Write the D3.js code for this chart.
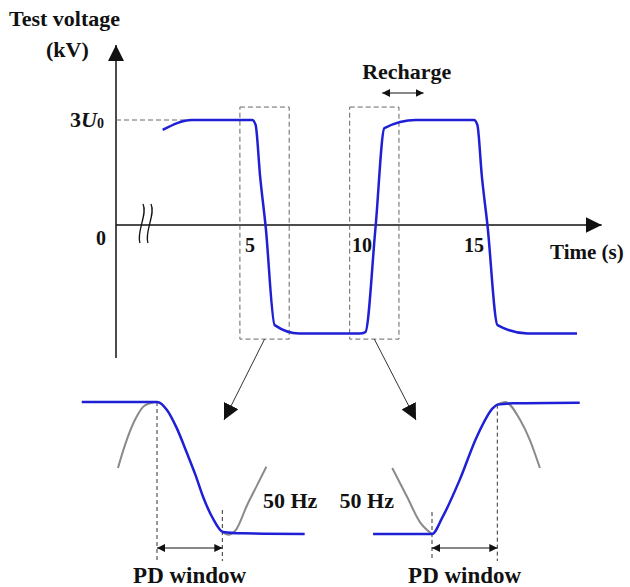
<!DOCTYPE html>
<html>
<head>
<meta charset="utf-8">
<script src="https://cdn.jsdelivr.net/npm/d3@7"></script>
<style>
  body { margin: 0; background: #fff; }
  text { font-family: "Liberation Serif", "Times New Roman", serif; font-weight: bold; fill: #111; }
</style>
</head>
<body>
<div id="chart"></div>
<script>
// main trace: time (s), voltage (in U0)
var mainTime = [1.1, 2.4, 5.1, 5.25, 5.45, 5.7, 6.1, 7.2, 8.5, 9.9, 10.15, 10.6, 11.0, 12.4, 15.0, 15.15, 15.35, 15.6, 16.05, 17.4, 19.6];
var mainVolt = [2.72, 3.0, 3.0, 2.86, 1.4, -0.05, -2.86, -3.1, -3.1, -3.1, -3.06, -0.1, 2.77, 3.0, 3.0, 2.86, 1.4, 0.0, -2.86, -3.1, -3.1];
var timeTicks = [5, 10, 15];
var boxes = [{t0: 4.55, t1: 6.75, v0: 3.37, v1: -3.26}, {t0: 9.45, t1: 11.65, v0: 3.37, v1: -3.26}];

// zoomed panels: time (ms) and normalised voltage
var leftBlueT = [-10.6, -3, 0, 1.4, 2.8, 4.2, 5.4, 6.5, 7.8, 9.3, 12, 20.8];
var leftBlueV = [1, 1, 1, 0.88, 0.6, 0.23, -0.1, -0.44, -0.75, -0.97, -0.99, -1.0];
var leftGrayA_T = [-5.5, -4.5, -3.1, -1.7, 0];
var leftGrayA_V = [0, 0.35, 0.73, 0.95, 1];
var leftGrayB_T = [9.2, 10, 11.1, 12.7, 14.1, 15.4];
var leftGrayB_V = [-0.97, -1.01, -0.94, -0.56, -0.26, 0.02];

var rightBlueT = [-8.3, -3, 0, 1.5, 3.9, 6.3, 8.6, 9.2, 11.4, 20.8];
var rightBlueV = [-1, -1, -1, -0.74, -0.18, 0.47, 0.91, 0.96, 0.98, 0.99];
var rightGrayA_T = [-5.6, -3.5, -1.7, 0];
var rightGrayA_V = [0, -0.44, -0.82, -1];
var rightGrayB_T = [9.2, 10.3, 12.4, 13.8, 15.2];
var rightGrayB_V = [0.96, 1, 0.73, 0.42, 0];
var pdLeft = [0, 9.2];
var pdRight = [0, 9.2];

var width = 630, height = 587;
var blue = "#1f1fd6", gray = "#8a8a8a";

var svg = d3.select("#chart").append("svg")
    .attr("width", width)
    .attr("height", height);

var defs = svg.append("defs");
function marker(id, size) {
  defs.append("marker")
      .attr("id", id)
      .attr("viewBox", "0 0 10 10")
      .attr("refX", 10).attr("refY", 5)
      .attr("markerWidth", size).attr("markerHeight", size)
      .attr("markerUnits", "userSpaceOnUse")
      .attr("orient", "auto-start-reverse")
    .append("path")
      .attr("d", "M0,0 L10,5 L0,10 z")
      .attr("fill", "#111");
}
marker("big", 16);
marker("small", 8);

// ---- main chart ----
var x = d3.scaleLinear().domain([0, 20]).range([138, 586]);
var y = d3.scaleLinear().domain([-3, 3]).range([330, 120]);

var axisX0 = 116;
// y axis
svg.append("line")
    .attr("x1", axisX0).attr("x2", axisX0)
    .attr("y1", y(-3.8)).attr("y2", 45)
    .attr("stroke", "#111").attr("stroke-width", 1.5)
    .attr("marker-end", "url(#big)");
// x axis
svg.append("line")
    .attr("x1", axisX0).attr("x2", x(20.7))
    .attr("y1", y(0)).attr("y2", y(0))
    .attr("stroke", "#111").attr("stroke-width", 1.5)
    .attr("marker-end", "url(#big)");

// break mark
[0, 8].forEach(function(dx) {
  svg.append("path")
      .attr("d", "M" + (143 + dx) + "," + 204 + " C" + (148 + dx) + ",214 " + (136 + dx) + ",232 " + (140 + dx) + ",243")
      .attr("fill", "none").attr("stroke", "#111").attr("stroke-width", 1.3);
});

// 3U0 guide
svg.append("line")
    .attr("x1", axisX0).attr("x2", x(5.1))
    .attr("y1", y(3)).attr("y2", y(3))
    .attr("stroke", "#666").attr("stroke-dasharray", "5,3");

// dashed boxes
svg.selectAll(".box").data(boxes).enter().append("rect")
    .attr("class", "box")
    .attr("x", function(d) { return x(d.t0); })
    .attr("y", function(d) { return y(d.v0); })
    .attr("width", function(d) { return x(d.t1) - x(d.t0); })
    .attr("height", function(d) { return y(d.v1) - y(d.v0); })
    .attr("fill", "none").attr("stroke", "#666").attr("stroke-dasharray", "5,3");

var mainLine = d3.line()
    .x(function(d) { return x(d[0]); })
    .y(function(d) { return y(d[1]); })
    .curve(d3.curveMonotoneX);

svg.append("path")
    .datum(d3.zip(mainTime, mainVolt))
    .attr("d", mainLine)
    .attr("fill", "none").attr("stroke", blue).attr("stroke-width", 2.5);

// labels
svg.append("text").attr("x", 9).attr("y", 26).style("font-size", "22px").text("Test voltage");
svg.append("text").attr("x", 46).attr("y", 57).style("font-size", "22px").text("(kV)");
var u0 = svg.append("text").attr("x", 104).attr("y", 127).attr("text-anchor", "end").style("font-size", "22px");
u0.append("tspan").text("3");
u0.append("tspan").style("font-style", "italic").text("U");
u0.append("tspan").style("font-size", "14px").attr("dy", 1).text("0");
svg.append("text").attr("x", 101).attr("y", 245).attr("text-anchor", "middle").style("font-size", "20px").text("0");

svg.selectAll(".tick").data(timeTicks).enter().append("text")
    .attr("class", "tick")
    .attr("x", function(d) { return x(d); })
    .attr("y", 252)
    .attr("text-anchor", "middle")
    .style("font-size", "20px")
    .text(String);

svg.append("text").attr("x", 550).attr("y", 259).style("font-size", "21px").text("Time (s)");

svg.append("text").attr("x", x(12.0)).attr("y", 79).attr("text-anchor", "middle").style("font-size", "22px").text("Recharge");
svg.append("line")
    .attr("x1", x(10.9)).attr("x2", x(12.75))
    .attr("y1", 93).attr("y2", 93)
    .attr("stroke", "#111").attr("stroke-width", 1)
    .attr("marker-start", "url(#small)").attr("marker-end", "url(#small)");

// arrows to zoomed panels
svg.append("line")
    .attr("x1", x((boxes[0].t0 + boxes[0].t1) / 2)).attr("y1", y(boxes[0].v1))
    .attr("x2", 224).attr("y2", 420)
    .attr("stroke", "#333").attr("stroke-width", 1)
    .attr("marker-end", "url(#big)");
svg.append("line")
    .attr("x1", x((boxes[1].t0 + boxes[1].t1) / 2)).attr("y1", y(boxes[1].v1))
    .attr("x2", 416).attr("y2", 420)
    .attr("stroke", "#333").attr("stroke-width", 1)
    .attr("marker-end", "url(#big)");

// ---- zoomed panels ----
var yP = d3.scaleLinear().domain([-1, 1]).range([534, 402]);
var xL = d3.scaleLinear().domain([0, 10]).range([157, 228]);
var xR = d3.scaleLinear().domain([0, 10]).range([432, 503]);

function drawPanel(xs, blueT, blueV, grays, pd, hzX, hzAnchor) {
  var line = d3.line()
      .x(function(d) { return xs(d[0]); })
      .y(function(d) { return yP(d[1]); })
      .curve(d3.curveMonotoneX);

  grays.forEach(function(g) {
    svg.append("path")
        .datum(d3.zip(g[0], g[1]))
        .attr("d", line)
        .attr("fill", "none").attr("stroke", gray).attr("stroke-width", 2);
  });

  // PD window dashed lines
  pd.forEach(function(t) {
    var v = d3.zip(blueT, blueV).find(function(p) { return p[0] >= t; })[1];
    svg.append("line")
        .attr("x1", xs(t)).attr("x2", xs(t))
        .attr("y1", (v < 0) ? yP(v) - 22 : yP(v))
        .attr("y2", 561)
        .attr("stroke", "#333").attr("stroke-dasharray", "4,3");
  });

  svg.append("path")
      .datum(d3.zip(blueT, blueV))
      .attr("d", line)
      .attr("fill", "none").attr("stroke", blue).attr("stroke-width", 2.5);

  svg.append("line")
      .attr("x1", xs(pd[0])).attr("x2", xs(pd[1]))
      .attr("y1", 548).attr("y2", 548)
      .attr("stroke", "#111").attr("stroke-width", 1)
      .attr("marker-start", "url(#small)").attr("marker-end", "url(#small)");

  svg.append("text")
      .attr("x", (xs(pd[0]) + xs(pd[1])) / 2)
      .attr("y", 583)
      .attr("text-anchor", "middle")
      .style("font-size", "23px")
      .text("PD window");

  svg.append("text")
      .attr("x", hzX).attr("y", 508)
      .attr("text-anchor", hzAnchor)
      .style("font-size", "22px")
      .text("50 Hz");
}

drawPanel(xL, leftBlueT, leftBlueV,
  [[leftGrayA_T, leftGrayA_V], [leftGrayB_T, leftGrayB_V]], pdLeft, 263, "start");
drawPanel(xR, rightBlueT, rightBlueV,
  [[rightGrayA_T, rightGrayA_V], [rightGrayB_T, rightGrayB_V]], pdRight, 394, "end");
</script>
</body>
</html>
